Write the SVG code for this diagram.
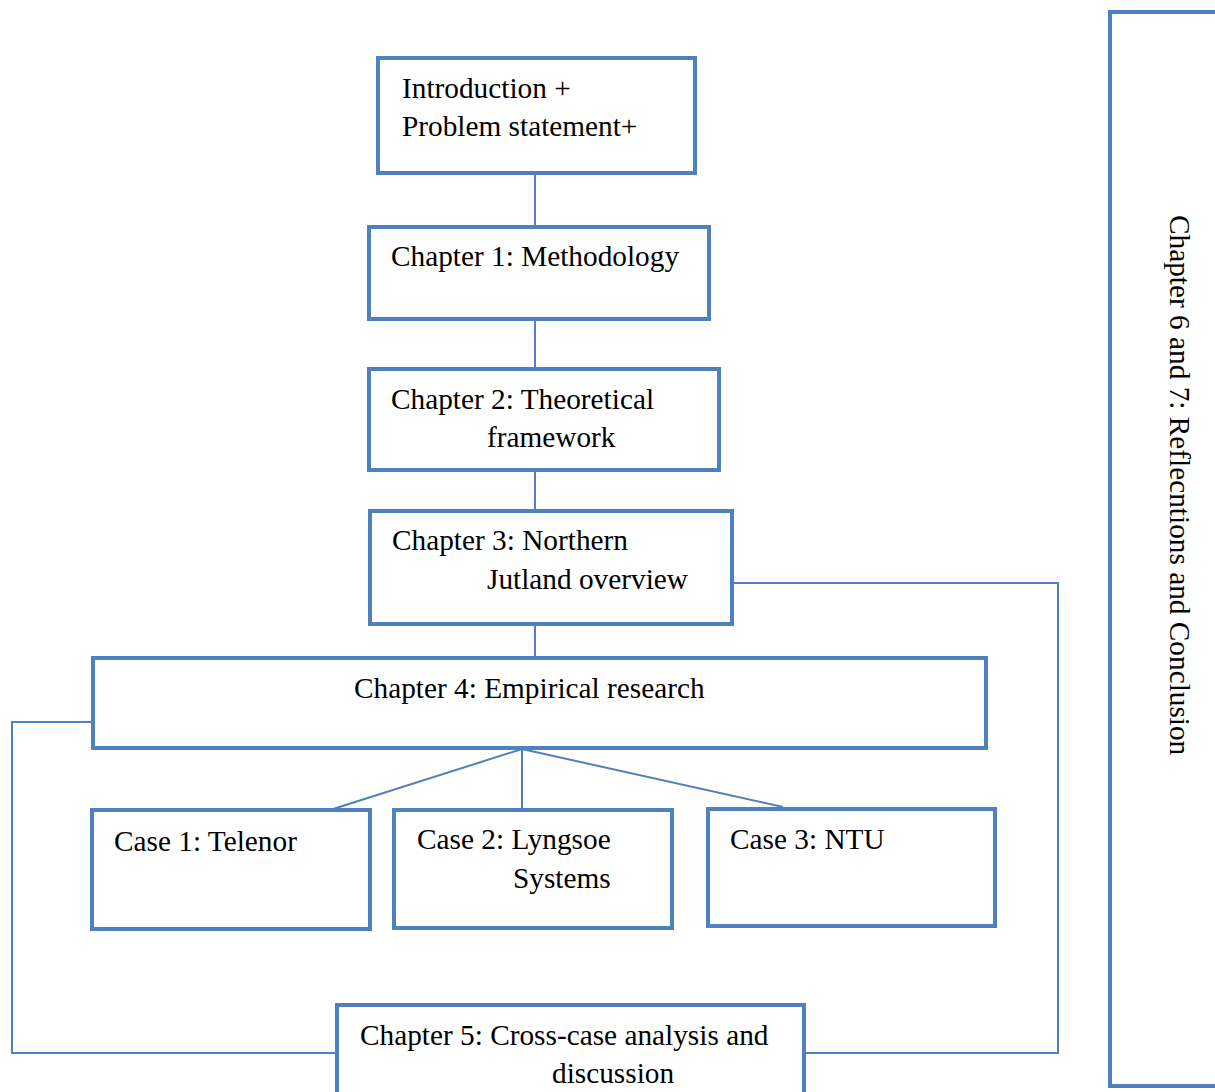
<svg xmlns="http://www.w3.org/2000/svg" width="1215" height="1092" viewBox="0 0 1215 1092">
<style>
.box{fill:#fff;stroke:#4F81BD;stroke-width:4}
.ln{fill:none;stroke:#4F81BD;stroke-width:2}
text{font-family:"Liberation Serif","Times New Roman",serif;font-size:29.3px;fill:#000}
</style>
<rect width="1215" height="1092" fill="#fff"/>
<g id="connectors">
<path class="ln" d="M535,173V227M535,319V369M535,470V511M535,624V658"/>
<path class="ln" d="M732,583H1058V1053H804"/>
<path class="ln" d="M93,722H12V1053H337"/>
<path class="ln" d="M522,749L333,809M522,749V809M522,749L783,807"/>
</g>
<g id="intro"><rect class="box" x="378" y="58" width="317" height="115"/><text x="402" y="98">Introduction +</text><text x="402" y="136">Problem statement+</text></g>
<g id="ch1"><rect class="box" x="369" y="227" width="340" height="92"/><text x="391" y="266">Chapter 1: Methodology</text></g>
<g id="ch2"><rect class="box" x="369" y="369" width="350" height="101"/><text x="391" y="409">Chapter 2: Theoretical</text><text x="487" y="447">framework</text></g>
<g id="ch3"><rect class="box" x="370" y="511" width="362" height="113"/><text x="392" y="550">Chapter 3: Northern</text><text x="487" y="589">Jutland overview</text></g>
<g id="ch4"><rect class="box" x="93" y="658" width="893" height="90"/><text x="354" y="698">Chapter 4: Empirical research</text></g>
<g id="case1"><rect class="box" x="92" y="810" width="278" height="119"/><text x="114" y="851">Case 1: Telenor</text></g>
<g id="case2"><rect class="box" x="394" y="810" width="278" height="118"/><text x="417" y="849">Case 2: Lyngsoe</text><text x="513" y="888">Systems</text></g>
<g id="case3"><rect class="box" x="708" y="809" width="287" height="117"/><text x="730" y="849">Case 3: NTU</text></g>
<g id="ch5"><rect class="box" x="337" y="1005" width="467" height="100"/><text x="360" y="1045">Chapter 5: Cross-case analysis and</text><text x="552" y="1083">discussion</text></g>
<g id="ch67"><rect class="box" x="1110" y="12" width="120" height="1074"/><text transform="translate(1170,215) rotate(90)">Chapter 6 and 7: Reflecntions and Conclusion</text></g>
</svg>
